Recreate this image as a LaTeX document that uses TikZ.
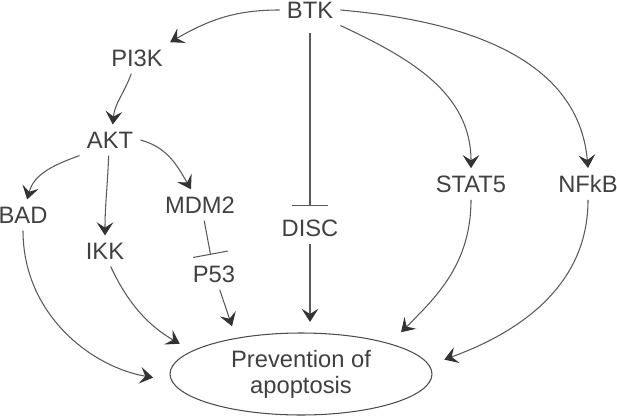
\documentclass[tikz,border=0pt]{standalone}
\usepackage{fontspec}
\setmainfont{Liberation Sans}
\usetikzlibrary{arrows.meta,shapes.geometric}
\begin{document}
\begin{tikzpicture}[x=0.02cm, y=0.02cm,
    prot/.style={text=black!75, inner sep=4pt, font=\fontsize{13.5}{14.7}\selectfont},
    act/.style={draw=black!65, line width=0.6pt, -{Stealth[length=7.5pt, width=9.5pt, inset=3pt, color=black!80]}},
    inh/.style={draw=black!65, line width=0.6pt, -{Bar[width=20pt]}},
    outcome/.style={ellipse, draw=black!70, line width=0.6pt, minimum width=5.24cm, minimum height=1.64cm,
        align=center, inner sep=0pt, text=black!75, font=\fontsize{13.5}{14.7}\selectfont}]
    \useasboundingbox (0,0) rectangle (617,416);

    \node[prot] (btk) at (310,406) {BTK};
    \node[prot] (pi3k) at (137,358) {PI3K};
    \node[prot] (akt) at (110,276) {AKT};
    \node[prot] (bad) at (23,201) {BAD};
    \node[prot] (ikk) at (105,165) {IKK};
    \node[prot] (mdm) at (200,211) {MDM2};
    \node[prot] (p53) at (214,142) {P53};
    \node[prot] (disc) at (310,188) {DISC};
    \node[prot] (stat) at (471,232) {STAT5};
    \node[prot] (nfkb) at (588,232) {NFkB};
    \node[outcome] (prev) at (301,42) {Prevention of\\apoptosis};

    \draw[act] (btk.west) to[out=180, in=30] (pi3k.north east);
    \draw[act] (pi3k.250) to[out=250, in=85] (akt.80);
    \draw[act] (akt.south west) to[out=200, in=75] (bad.75);
    \draw[act] (akt.265) to[out=268, in=90] (ikk.north);
    \draw[act] (akt.east) to[out=-15, in=120] (mdm.120);
    \draw[act] (btk.south east) to[out=-25, in=90] (stat.north);
    \draw[act] (btk.east) to[out=-5, in=95] (nfkb.north);

    \draw[inh, shorten <=4pt, shorten >=3.5pt] (btk.south) -- (disc.north);
    \draw[inh, shorten >=2pt] (mdm.285) -- (p53.100);

    \draw[act, shorten >=10.5pt] (bad.south) to[out=270, in=170] (prev.183);
    \draw[act, shorten >=8pt] (ikk.290) to[out=295, in=150] (prev.168);
    \draw[act, shorten >=7pt] (p53.290) -- (prev.151);
    \draw[act, shorten >=6pt] (disc.south) -- (disc.south |- prev.north);
    \draw[act, shorten >=9pt] (stat.south) to[out=270, in=45] (prev.19);
    \draw[act, shorten >=9pt] (nfkb.south) to[out=270, in=20] (prev.4);
\end{tikzpicture}
\end{document}
